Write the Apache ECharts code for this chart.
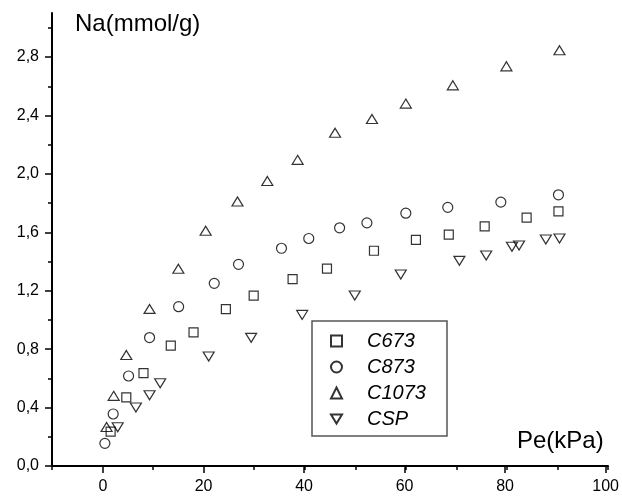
<!DOCTYPE html>
<html>
<head>
<meta charset="utf-8">
<script src="https://cdn.jsdelivr.net/npm/echarts/dist/echarts.min.js"></script>
<style>html,body{margin:0;padding:0;background:#fff}#c{width:622px;height:498px}</style>
</head>
<body>
<div id="c"></div>
<script>
var seriesNames = ['C673', 'C873', 'C1073', 'CSP'];
var c673X = [1.6, 4.7, 8.1, 13.5, 18.0, 24.4, 29.9, 37.6, 44.4, 53.7, 62.0, 68.5, 75.6, 83.9, 90.2];
var c673Y = [0.235, 0.47, 0.635, 0.824, 0.915, 1.073, 1.166, 1.279, 1.351, 1.473, 1.548, 1.584, 1.64, 1.70, 1.742];
var c873X = [0.46, 2.1, 5.15, 9.3, 15.05, 22.1, 26.9, 35.4, 40.8, 46.9, 52.3, 60.0, 68.3, 78.8, 90.2];
var c873Y = [0.155, 0.356, 0.616, 0.879, 1.09, 1.25, 1.38, 1.49, 1.557, 1.63, 1.664, 1.73, 1.77, 1.806, 1.856];
var c1073X = [0.8, 2.2, 4.7, 9.3, 15.0, 20.4, 26.7, 32.6, 38.6, 46.0, 53.3, 60.0, 69.3, 79.9, 90.4];
var c1073Y = [0.267, 0.48, 0.76, 1.075, 1.35, 1.61, 1.81, 1.95, 2.095, 2.28, 2.375, 2.48, 2.605, 2.735, 2.845];
var cspX = [3.0, 6.6, 9.3, 11.4, 21.0, 29.4, 39.5, 49.9, 59.0, 70.6, 75.9, 81.0, 82.4, 87.7, 90.4];
var cspY = [0.265, 0.40, 0.484, 0.566, 0.749, 0.877, 1.034, 1.167, 1.31, 1.404, 1.44, 1.50, 1.509, 1.55, 1.557];
var xTitle = 'Pe(kPa)';
var yTitle = 'Na(mmol/g)';

function pairs(xs, ys) { return xs.map(function (x, i) { return [x, ys[i]]; }); }

var FONT = '"Liberation Sans", Arial, sans-serif';
var chart = echarts.init(document.getElementById('c'), null, { renderer: 'canvas' });

var markerStyle = { color: 'rgba(255,255,255,0)', borderColor: '#000', borderWidth: 1.2 };
function sc(name, data, symbol, size, rot) {
  return {
    type: 'scatter', name: name, data: data, xAxisIndex: 0, yAxisIndex: 0,
    symbol: symbol, symbolSize: size, symbolRotate: rot || 0,
    itemStyle: markerStyle, emphasis: { disabled: true }, silent: true
  };
}

var hidden = { show: false };
var option = {
  animation: false,
  backgroundColor: '#fff',
  grid: [
    { left: 52, right: 14, top: 13, bottom: 32 },
    { left: 52, right: 14, top: 28, bottom: 32 },
    { left: 103, right: 14, top: 57, bottom: 32 }
  ],
  xAxis: [
    { gridIndex: 0, type: 'value', min: -10, max: 100, interval: 10,
      axisLine: { show: true, onZero: false, lineStyle: { color: '#000', width: 2 } },
      axisTick: hidden, axisLabel: hidden, splitLine: hidden },
    { gridIndex: 1, type: 'value', min: -10, max: 100, interval: 10,
      axisLine: { show: false, onZero: false },
      axisTick: { show: true, inside: false, length: 4, lineStyle: { color: '#000', width: 1.5 } },
      axisLabel: hidden, splitLine: hidden },
    { gridIndex: 2, type: 'value', min: 0, max: 100, interval: 20,
      axisLine: { show: false, onZero: false },
      axisTick: { show: true, inside: false, length: 7, lineStyle: { color: '#000', width: 1.5 } },
      axisLabel: { show: true, margin: 13, color: '#000', fontSize: 16, fontFamily: FONT },
      splitLine: hidden }
  ],
  yAxis: [
    { gridIndex: 0, type: 'value', min: 0, max: 3.1,
      axisLine: { show: true, onZero: false, lineStyle: { color: '#000', width: 2 } },
      axisTick: hidden, axisLabel: hidden, splitLine: hidden },
    { gridIndex: 1, type: 'value', min: 0, max: 3.0, interval: 0.2,
      axisLine: { show: false, onZero: false },
      axisTick: { show: true, inside: false, length: 4, lineStyle: { color: '#000', width: 1.5 } },
      axisLabel: hidden, splitLine: hidden },
    { gridIndex: 2, type: 'value', min: 0, max: 2.8, interval: 0.4, offset: 51,
      axisLine: { show: false, onZero: false },
      axisTick: { show: true, inside: false, length: 7, lineStyle: { color: '#000', width: 1.5 } },
      axisLabel: { show: true, margin: 13, color: '#000', fontSize: 16, fontFamily: FONT,
        formatter: function (v) { return v.toFixed(1).replace('.', ','); } },
      splitLine: hidden }
  ],
  legend: {
    orient: 'vertical', left: 330, top: 331, padding: 0, itemGap: 6,
    itemWidth: 11, itemHeight: 11,
    data: [
      { name: seriesNames[0] },
      { name: seriesNames[1] },
      { name: seriesNames[2] },
      { name: seriesNames[3], icon: 'path://M0,0L11,0L5.5,9Z' }
    ],
    textStyle: { fontSize: 20, fontStyle: 'italic', fontFamily: FONT, color: '#000', lineHeight: 20, padding: [0, 0, 0, 20] },
    selectedMode: false
  },
  graphic: [
    { type: 'rect', shape: { x: 312, y: 321, width: 135, height: 115 },
      style: { fill: 'none', stroke: '#555', lineWidth: 1.5 }, silent: true },
    { type: 'text', x: 75, y: 24,
      style: { text: yTitle, font: '24px ' + FONT, fill: '#000', verticalAlign: 'middle', textVerticalAlign: 'middle' } },
    { type: 'text', x: 517, y: 441,
      style: { text: xTitle, font: '24px ' + FONT, fill: '#000', verticalAlign: 'middle', textVerticalAlign: 'middle' } }
  ],
  series: [
    sc(seriesNames[0], pairs(c673X, c673Y), 'rect', 9),
    sc(seriesNames[1], pairs(c873X, c873Y), 'circle', 10),
    sc(seriesNames[2], pairs(c1073X, c1073Y), 'triangle', [11, 9]),
    sc(seriesNames[3], pairs(cspX, cspY), 'triangle', [11, 9], 180)
  ]
};
chart.setOption(option);
</script>
</body>
</html>
